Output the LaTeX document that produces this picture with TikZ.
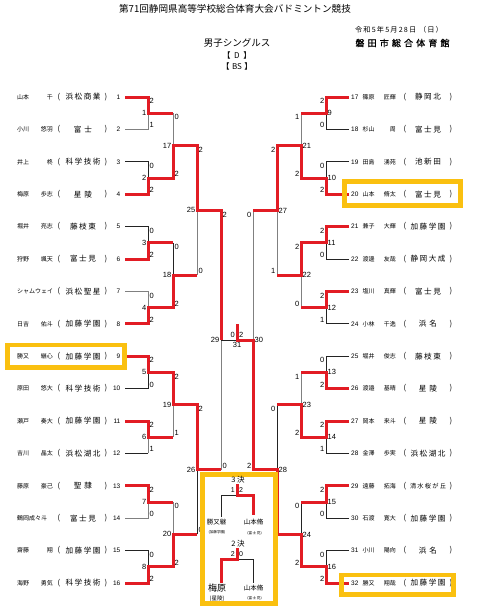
\documentclass[tikz,border=0pt]{standalone}
\usepackage{fontspec}
\setmainfont{Liberation Sans}
\newfontfamily\jp{Noto Sans CJK JP}
\newfontfamily\jpsp[LetterSpace=20]{Noto Sans CJK JP}
\newfontfamily\jpw[LetterSpace=16]{Noto Sans CJK JP}
\newfontfamily\jpb[LetterSpace=35,FakeBold=1]{Noto Sans CJK JP}
\definecolor{bred}{RGB}{226,28,36}
\definecolor{byel}{RGB}{250,192,16}
\definecolor{bgry}{RGB}{128,128,128}
\definecolor{bblk}{RGB}{35,35,35}
\newcommand\lpl[4]{%
\pgfmathsetmacro\yy{97+(#1-1)*32.4}%
\node[nm,anchor=west] (lf#1) at (17,\yy) {#2};
\node[nm,anchor=east] (lg#1) at (53,\yy) {#3};
\node[sch] (lo#1) at (59,\yy) {(};
\node[sch] (ls#1) at (83,\yy) {#4};
\node[sch] (lc#1) at (106,\yy) {)};
\node[pn,anchor=east] (ln#1) at (120.5,\yy) {#1};
}
\newcommand\rpl[4]{%
\pgfmathsetmacro\yy{97+(#1-17)*32.4}%
\node[pn,anchor=west] (rn#1) at (351,\yy) {#1};
\node[nm,anchor=west] (rf#1) at (362.5,\yy) {#2};
\node[nm,anchor=east] (rg#1) at (396,\yy) {#3};
\node[sch] (ro#1) at (405,\yy) {(};
\node[sch] (rs#1) at (428,\yy) {#4};
\node[sch] (rc#1) at (451,\yy) {)};
}
\newcommand\scL[5]{%
\node[sc,anchor=north west] (s#1t) at ([shift={(1.5pt,-1.3pt)}]#2) {#4};
\node[sc,anchor=south west] (s#1b) at ([shift={(1.5pt,1.3pt)}]#3) {#5};
\node[sc,anchor=east] (m#1) at ([xshift=-1.5pt]J#1) {#1};
}
\newcommand\scR[5]{%
\node[sc,anchor=north east] (s#1t) at ([shift={(-1.5pt,-1.3pt)}]#2) {#4};
\node[sc,anchor=south east] (s#1b) at ([shift={(-1.5pt,1.3pt)}]#3) {#5};
\node[sc,anchor=west] (m#1) at ([xshift=1.5pt]J#1) {#1};
}
\begin{document}
\begin{tikzpicture}[x=1pt,y=-1pt,
  nm/.style={font=\jp\fontsize{6}{6}\selectfont,inner sep=0pt},
  sch/.style={font=\jpsp\fontsize{7.6}{8}\selectfont,inner sep=0pt},
  pn/.style={font=\fontsize{6.5}{7}\selectfont,inner sep=0pt},
  sc/.style={font=\fontsize{7.5}{8}\selectfont,inner sep=0pt},
  thinb/.style={draw=bblk,line width=0.8pt},
  thing/.style={draw=bgry,line width=0.8pt},
  win/.style={draw=bred,line width=3pt,line join=miter},
  ybox/.style={draw=byel,line width=4.8pt},
  lbl/.style={inner sep=0pt}]
\useasboundingbox (0,0) rectangle (478,606);
\fill[white] (0,0) rectangle (478,606);
% ---------- coordinates ----------
\foreach \i in {1,...,16}{\pgfmathsetmacro\yy{97+(\i-1)*32.4}
  \coordinate (LP\i) at (125,\yy); \coordinate (LQ\i) at (148,\yy);}
\foreach \i in {17,...,32}{\pgfmathsetmacro\yy{97+(\i-17)*32.4}
  \coordinate (RP\i) at (349,\yy); \coordinate (RQ\i) at (326,\yy);}
\foreach \m in {1,...,8}{\pgfmathsetmacro\yy{113.2+(\m-1)*64.8}
  \coordinate (J\m) at (148,\yy); \coordinate (E\m) at (173,\yy);}
\foreach \m in {9,...,16}{\pgfmathsetmacro\yy{113.2+(\m-9)*64.8}
  \coordinate (J\m) at (326,\yy); \coordinate (E\m) at (301,\yy);}
\foreach \m in {17,...,20}{\pgfmathsetmacro\yy{145.6+(\m-17)*129.6}
  \coordinate (J\m) at (173,\yy); \coordinate (E\m) at (197,\yy);}
\foreach \m in {21,...,24}{\pgfmathsetmacro\yy{145.6+(\m-21)*129.6}
  \coordinate (J\m) at (301,\yy); \coordinate (E\m) at (277,\yy);}
\foreach \m in {25,26}{\pgfmathsetmacro\yy{210.4+(\m-25)*259.2}
  \coordinate (J\m) at (197,\yy); \coordinate (E\m) at (221,\yy);}
\foreach \m in {27,28}{\pgfmathsetmacro\yy{210.4+(\m-27)*259.2}
  \coordinate (J\m) at (277,\yy); \coordinate (E\m) at (253,\yy);}
\coordinate (J29) at (221,340);
\coordinate (J30) at (253,340);
\coordinate (C) at (237,340);
\coordinate (S31) at (237,324);
% ---------- header ----------
\node[lbl,font=\jp\fontsize{9.6}{10}\selectfont] (title) at (235,8.5) {第71回静岡県高等学校総合体育大会バドミントン競技};
\node[lbl,font=\jpw\fontsize{7.2}{8}\selectfont] (date) at (399,30) {令和5年5月28日 （日）};
\node[lbl,font=\jpb\fontsize{9}{10}\selectfont] (venue) at (402.5,43) {磐田市総合体育館};
\node[lbl,font=\jp\fontsize{9.5}{10}\selectfont] (event) at (237,43) {男子シングルス};
\node[lbl,font=\jp\fontsize{8}{9}\selectfont] (cd) at (237,55) {【\hspace{3.5pt}D\hspace{3.5pt}】};
\node[lbl,font=\jp\fontsize{8}{9}\selectfont] (cbs) at (237,66) {【\hspace{2.5pt}BS\hspace{2.5pt}】};
% ---------- thin (losing) lines ----------
\draw[thing] (LP2)--(LQ2)--(J1);
\draw[thinb] (LP3)--(LQ3)--(J2);
\draw[thinb] (LP5)--(LQ5)--(J3);
\draw[thing] (LP7)--(LQ7)--(J4);
\draw[thinb] (LP10)--(LQ10)--(J5);
\draw[thinb] (LP12)--(LQ12); \draw[thing] (LQ12)--(J6);
\draw[thing] (LP14)--(LQ14)--(J7);
\draw[thinb] (LP15)--(LQ15)--(J8);
\draw[thing] (E1)--(J17);
\draw[thinb] (E3)--(J18);
\draw[thing] (E6)--(J19);
\draw[thing] (E7)--(J20);
\draw[thing] (E18)--(J25);
\draw[thinb] (E20)--(J26);
\draw[thing] (E26)--(J29);
\draw[thinb] (J29)--(C);
\draw[thinb] (RP18)--(RQ18)--(J9);
\draw[thinb] (RP19)--(RQ19)--(J10);
\draw[thinb] (RP22)--(RQ22)--(J11);
\draw[thinb] (RP24)--(RQ24)--(J12);
\draw[thinb] (RP25)--(RQ25)--(J13);
\draw[thinb] (RP28)--(RQ28)--(J14);
\draw[thinb] (RP30)--(RQ30)--(J15);
\draw[thinb] (RP31)--(RQ31)--(J16);
\draw[thing] (E9)--(J21);
\draw[thing] (E12)--(J22);
\draw[thing] (E13)--(J23);
\draw[thinb] (E15)--(J24);
\draw[thing] (E22)--(J27);
\draw[thinb] (E23)--(J28);
\draw[thing] (E27)--(J30);
% ---------- winning (red) lines ----------
\draw[win] (LP1)--(LQ1)--(J1)--(E1);
\draw[win] (LP4)--(LQ4)--(J2)--(E2)--(J17)--(E17)--(J25)--(E25)--(J29);
\draw[win] (LP6)--(LQ6)--(J3)--(E3);
\draw[win] (LP8)--(LQ8)--(J4)--(E4)--(J18)--(E18);
\draw[win] (LP9)--(LQ9)--(J5)--(E5)--(J19)--(E19)--(J26)--(E26);
\draw[win] (LP11)--(LQ11)--(J6)--(E6);
\draw[win] (LP13)--(LQ13)--(J7)--(E7);
\draw[win] (LP16)--(LQ16)--(J8)--(E8)--(J20)--(E20);
\draw[win] (RP17)--(RQ17)--(J9)--(E9);
\draw[win] (RP20)--(RQ20)--(J10)--(E10)--(J21)--(E21)--(J27)--(E27);
\draw[win] (RP21)--(RQ21)--(J11)--(E11)--(J22)--(E22);
\draw[win] (RP23)--(RQ23)--(J12)--(E12);
\draw[win] (RP26)--(RQ26)--(J13)--(E13);
\draw[win] (RP27)--(RQ27)--(J14)--(E14)--(J23)--(E23);
\draw[win] (RP29)--(RQ29)--(J15)--(E15);
\draw[win] (RP32)--(RQ32)--(J16)--(E16)--(J24)--(E24)--(J28)--(E28)--(J30)--(C)--(S31);
% ---------- players ----------
\lpl{1}{山本}{千}{浜松商業}
\lpl{2}{小川}{悠羽}{富\hspace{3pt}士}
\lpl{3}{井上}{柊}{科学技術}
\lpl{4}{梅原}{歩志}{星\hspace{3pt}陵}
\lpl{5}{堀井}{亮志}{藤枝東}
\lpl{6}{狩野}{颯天}{富士見}
\lpl{7}{シャムウェイ}{}{浜松聖星}
\lpl{8}{日吉}{佑斗}{加藤学園}
\lpl{9}{勝又}{継心}{加藤学園}
\lpl{10}{原田}{悠大}{科学技術}
\lpl{11}{瀬戸}{奏大}{加藤学園}
\lpl{12}{吉川}{晶太}{浜松湖北}
\lpl{13}{藤原}{豪己}{聖\hspace{3pt}隷}
\lpl{14}{鶴岡成々斗}{}{富士見}
\lpl{15}{齋藤}{翔}{加藤学園}
\lpl{16}{海野}{勇気}{科学技術}
\rpl{17}{篠原}{匠輝}{静岡北}
\rpl{18}{杉山}{周}{富士見}
\rpl{19}{田島}{湧苑}{池新田}
\rpl{20}{山本}{脩太}{富士見}
\rpl{21}{兼子}{大輝}{加藤学園}
\rpl{22}{渡邊}{友哉}{静岡大成}
\rpl{23}{塩川}{真輝}{富士見}
\rpl{24}{小林}{千逸}{浜\hspace{3pt}名}
\rpl{25}{堀井}{俊志}{藤枝東}
\rpl{26}{渡邉}{基晴}{星\hspace{3pt}陵}
\rpl{27}{岡本}{来斗}{星\hspace{3pt}陵}
\rpl{28}{金澤}{歩実}{浜松湖北}
\rpl{29}{遠藤}{拓海}{{\fontsize{6.2}{7}\selectfont 清水桜が丘}}
\rpl{30}{石渡}{寛大}{加藤学園}
\rpl{31}{小川}{陽向}{浜\hspace{3pt}名}
\rpl{32}{勝又}{翔哉}{加藤学園}
% ---------- scores and match numbers ----------
\scL{1}{LQ1}{LQ2}{2}{1}
\scL{2}{LQ3}{LQ4}{0}{2}
\scL{3}{LQ5}{LQ6}{0}{2}
\scL{4}{LQ7}{LQ8}{0}{2}
\scL{5}{LQ9}{LQ10}{2}{0}
\scL{6}{LQ11}{LQ12}{2}{1}
\scL{7}{LQ13}{LQ14}{2}{0}
\scL{8}{LQ15}{LQ16}{0}{2}
\scL{17}{E1}{E2}{0}{2}
\scL{18}{E3}{E4}{0}{2}
\scL{19}{E5}{E6}{2}{1}
\scL{20}{E7}{E8}{0}{2}
\scL{25}{E17}{E18}{2}{0}
\scL{26}{E19}{E20}{2}{0}
\scL{29}{E25}{E26}{2}{0}
\scR{9}{RQ17}{RQ18}{2}{0}
\scR{10}{RQ19}{RQ20}{0}{2}
\scR{11}{RQ21}{RQ22}{2}{0}
\scR{12}{RQ23}{RQ24}{2}{1}
\scR{13}{RQ25}{RQ26}{0}{2}
\scR{14}{RQ27}{RQ28}{2}{1}
\scR{15}{RQ29}{RQ30}{2}{0}
\scR{16}{RQ31}{RQ32}{0}{2}
\scR{21}{E9}{E10}{1}{2}
\scR{22}{E11}{E12}{2}{0}
\scR{23}{E13}{E14}{1}{2}
\scR{24}{E15}{E16}{0}{2}
\scR{27}{E21}{E22}{2}{1}
\scR{28}{E23}{E24}{0}{2}
\scR{30}{E27}{E28}{0}{2}
\node[sc,anchor=south east] (f0) at ([shift={(-2pt,2pt)}]C) {0};
\node[sc,anchor=south west] (f2) at ([shift={(2pt,2pt)}]C) {2};
\node[sc,anchor=north] (m31) at ([yshift=-2pt]C) {31};
% ---------- highlight boxes ----------
\draw[ybox] (7.4,345) rectangle (124.6,367.6);
\draw[ybox] (344.8,181.7) rectangle (460.5,205.5);
\draw[ybox] (341.5,575) rectangle (453.5,594.3);
% ---------- placement box ----------
\draw[ybox,fill=white] (202.5,474.5) rectangle (275.5,603.5);
\node[lbl,font=\jp\fontsize{7.5}{8}\selectfont] (t3) at (238,480) {3 決};
\coordinate (T3s) at (237,484);
\coordinate (T3c) at (237,495);
\coordinate (T3l) at (221,495);
\coordinate (T3r) at (253,495);
\coordinate (T3lb) at (221,517);
\coordinate (T3rb) at (253,515);
\draw[thinb] (T3c)--(T3l)--(T3lb);
\draw[win] (T3s)--(T3c)--(T3r)--(T3rb);
\node[sc,anchor=east,font=\fontsize{7}{8}\selectfont] (t3a) at (235,490) {1};
\node[sc,anchor=west,font=\fontsize{7}{8}\selectfont] (t3b) at (239,490) {2};
\node[lbl,font=\jp\fontsize{6.5}{7}\selectfont] (t3ln) at (216.5,522) {勝又継};
\node[lbl,font=\jp\fontsize{3.6}{4}\selectfont] (t3ls) at (217,532) {(加藤学園)};
\node[lbl,font=\jp\fontsize{6.5}{7}\selectfont] (t3rn) at (253.5,522) {山本脩};
\node[lbl,font=\jp\fontsize{3.6}{4}\selectfont] (t3rs) at (254.5,533) {(富\,士\,見)};
\node[lbl,font=\jp\fontsize{7.5}{8}\selectfont] (t2) at (238,544) {2 決};
\coordinate (T2s) at (237,548);
\coordinate (T2c) at (237,559);
\coordinate (T2l) at (221,559);
\coordinate (T2r) at (253,559);
\coordinate (T2lb) at (221,583);
\coordinate (T2rb) at (253,583);
\draw[thinb] (T2c)--(T2r)--(T2rb);
\draw[win] (T2s)--(T2c)--(T2l)--(T2lb);
\node[sc,anchor=east,font=\fontsize{7}{8}\selectfont] (t2a) at (235,554.5) {2};
\node[sc,anchor=west,font=\fontsize{7}{8}\selectfont] (t2b) at (239,554.5) {0};
\node[lbl,font=\jp\fontsize{9}{10}\selectfont] (t2ln) at (217,588) {梅原};
\node[lbl,font=\jp\fontsize{5.5}{6}\selectfont] (t2ls) at (217,599) {(星陵)};
\node[lbl,font=\jp\fontsize{6.5}{7}\selectfont] (t2rn) at (253.5,588) {山本脩};
\node[lbl,font=\jp\fontsize{3.6}{4}\selectfont] (t2rs) at (254.5,598.5) {(富\,士\,見)};
\end{tikzpicture}
\end{document}
